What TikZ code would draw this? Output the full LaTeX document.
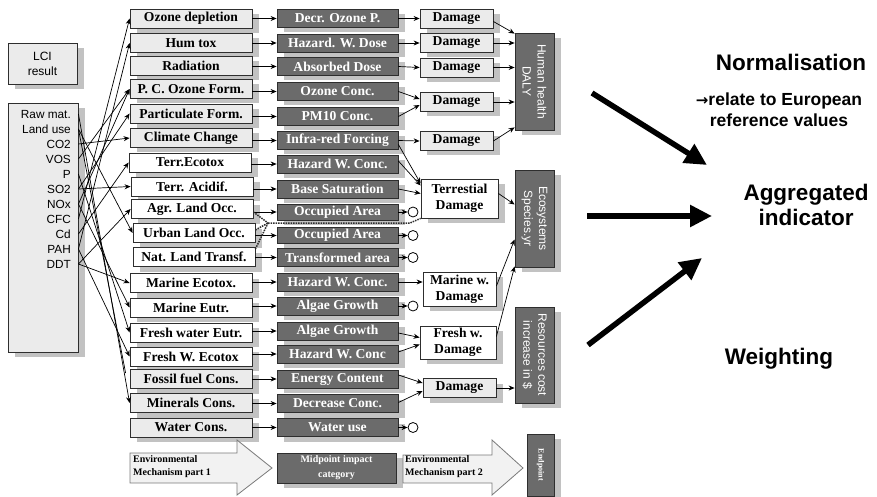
\documentclass[tikz,border=0pt]{standalone}
\usepackage{fontspec}
\setmainfont{Liberation Serif}
\setsansfont{Liberation Sans}
\newfontfamily\symfont{DejaVu Sans}
\usetikzlibrary{arrows.meta,shadows,calc}
\definecolor{lightfill}{HTML}{EBEBEB}
\definecolor{darkfill}{HTML}{6B6B6B}
\definecolor{shadowgray}{HTML}{C2C2C2}
\definecolor{edge}{HTML}{2E2E2E}
\definecolor{bigarrowfill}{HTML}{F2F2F2}
\definecolor{bigarrowedge}{HTML}{7A7A7A}
\begin{document}
\begin{tikzpicture}[x=1pt,y=-1pt,
  boxshadow/.style={general shadow={fill=shadowgray,shadow xshift=7pt,shadow yshift=-5pt}},
  catbox/.style={draw=edge,line width=0.8pt,fill=lightfill,inner sep=0pt,
    minimum width=122pt,minimum height=19pt,
    font=\bfseries\fontsize{13.6}{16}\selectfont,boxshadow},
  catwhite/.style={catbox,fill=white},
  midbox/.style={catbox,fill=darkfill,text=white,minimum width=121pt,minimum height=18pt},
  dmgbox/.style={catbox,minimum width=73pt},
  dmgwhite/.style={catbox,fill=white,align=center},
  endbox/.style={draw=edge,line width=0.8pt,fill=darkfill,inner sep=0pt,boxshadow},
  endtext/.style={rotate=-90,text=white,align=center,inner sep=0pt,
    font=\sffamily\fontsize{12}{15}\selectfont},
  srcbox/.style={draw=edge,line width=0.9pt,fill=lightfill,inner sep=0pt,boxshadow},
  invtext/.style={anchor=east,inner sep=0pt,font=\sffamily\fontsize{11.8}{13}\selectfont},
  arr/.style={-{Stealth[length=6pt,width=5pt]},line width=0.7pt},
  dotline/.style={densely dotted,line width=1.5pt,edge},
  endcirc/.style={circle,draw=black,line width=0.8pt,fill=white,minimum size=10pt,inner sep=0pt},
  bigarrow/.style={draw=bigarrowedge,line width=0.8pt,fill=bigarrowfill},
  arrowtext/.style={anchor=west,align=left,inner sep=0pt,font=\bfseries\fontsize{10}{13}\selectfont},
  thickarr/.style={line width=5.5pt,-{Triangle[length=22pt,width=21pt]}},
  bigtext/.style={font=\sffamily\bfseries\fontsize{22.5}{25}\selectfont,align=center,inner sep=0pt},
  smalltext/.style={font=\sffamily\bfseries\fontsize{17.5}{21}\selectfont,align=center,inner sep=0pt}
]
\useasboundingbox (0,0) rectangle (877,497);

% ---- inventory ----
\node[srcbox,minimum width=69pt,minimum height=41pt,align=center,
      font=\sffamily\fontsize{12}{15}\selectfont] (lci) at (42.5,63.5) {LCI\\result};
\node[srcbox,minimum width=70pt,minimum height=249pt] (inv) at (43,227.5) {};
\node[invtext] (iRaw)  at (71,114) {Raw mat.};
\node[invtext] (iLand) at (71,129) {Land use};
\node[invtext] (iCO)   at (71,144) {CO2};
\node[invtext] (iVOS)  at (71,159) {VOS};
\node[invtext] (iP)    at (71,174) {P};
\node[invtext] (iSO)   at (71,189) {SO2};
\node[invtext] (iNOx)  at (71,204) {NOx};
\node[invtext] (iCFC)  at (71,219) {CFC};
\node[invtext] (iCd)   at (71,234) {Cd};
\node[invtext] (iPAH)  at (71,249) {PAH};
\node[invtext] (iDDT)  at (71,264) {DDT};

% ---- midpoint categories ----
\node[catbox]   (m1)  at (191,18.5)  {Ozone depletion};
\node[catbox]   (m2)  at (191,43)    {Hum tox};
\node[catbox]   (m3)  at (191,66)    {Radiation};
\node[catbox]   (m4)  at (191,89)    {P. C. Ozone Form.};
\node[catbox]   (m5)  at (191,113.5) {Particulate Form.};
\node[catbox]   (m6)  at (191,138)   {Climate Change};
\node[catwhite] (m7)  at (190,162.5) {Terr.Ecotox};
\node[catwhite] (m8)  at (192,186.5) {Terr. Acidif.};
\node[catwhite] (m9)  at (192,209)   {Agr. Land Occ.};
\node[catwhite] (m10) at (194,233)   {Urban Land Occ.};
\node[catwhite] (m11) at (194,257)   {Nat. Land Transf.};
\node[catwhite] (m12) at (191,283)   {Marine Ecotox.};
\node[catwhite] (m13) at (191,307.5) {Marine Eutr.};
\node[catwhite] (m14) at (191,332.5) {Fresh water Eutr.};
\node[catwhite] (m15) at (191,356.5) {Fresh W. Ecotox};
\node[catbox]   (m16) at (191,379)   {Fossil fuel Cons.};
\node[catbox]   (m17) at (191,403)   {Minerals Cons.};
\node[catbox]   (m18) at (191,427.5) {Water Cons.};

% ---- midpoint indicators ----
\node[midbox] (d1)  at (337.5,18.5)  {Decr. Ozone P.};
\node[midbox] (d2)  at (337.5,43)    {Hazard. W. Dose};
\node[midbox] (d3)  at (337.5,66.5)  {Absorbed Dose};
\node[midbox] (d4)  at (337.5,91.5)  {Ozone Conc.};
\node[midbox] (d5)  at (337.5,116.5) {PM10 Conc.};
\node[midbox] (d6)  at (337.5,140.5) {Infra-red Forcing};
\node[midbox] (d7)  at (337.5,164)   {Hazard W. Conc.};
\node[midbox] (d8)  at (337.5,189)   {Base Saturation};
\node[midbox,minimum height=16pt] (d9)  at (337.5,212)   {Occupied Area};
\node[midbox,minimum height=16pt] (d10) at (337.5,235.5) {Occupied Area};
\node[midbox] (d11) at (337.5,257.5) {Transformed area};
\node[midbox] (d12) at (337.5,282)   {Hazard W. Conc.};
\node[midbox] (d13) at (337.5,306)   {Algae Growth};
\node[midbox] (d14) at (337.5,331)   {Algae Growth};
\node[midbox] (d15) at (337.5,354)   {Hazard W. Conc};
\node[midbox] (d16) at (337.5,379)   {Energy Content};
\node[midbox] (d17) at (337.5,403.5) {Decrease Conc.};
\node[midbox] (d18) at (337.5,427.5) {Water use};

% ---- damage boxes ----
\node[dmgbox] (h1) at (456.5,18.5) {Damage};
\node[dmgbox] (h2) at (456.5,43)   {Damage};
\node[dmgbox] (h3) at (456.5,67.5) {Damage};
\node[dmgbox] (h4) at (456.5,102)  {Damage};
\node[dmgbox] (h5) at (456.5,141)  {Damage};
\node[dmgwhite,minimum width=77pt,minimum height=39pt] (ter) at (459.5,198.5) {Terrestial\\Damage};
\node[dmgwhite,minimum width=73pt,minimum height=34pt] (mar) at (459.5,289)   {Marine w.\\Damage};
\node[dmgwhite,minimum width=76pt,minimum height=33pt] (fre) at (458,342.5)   {Fresh w.\\Damage};
\node[dmgbox] (rd) at (459.5,388) {Damage};

% ---- end points ----
\node[endbox,minimum width=39pt,minimum height=97pt] (hh)  at (534.5,81.5)  {};
\node[endtext] (hhl) at (hh.center) {Human health\\DALY};
\node[endbox,minimum width=39pt,minimum height=97pt] (eco) at (534.5,218.5) {};
\node[endtext] (ecol) at (eco.center) {Ecosystems\\Species.yr};
\node[endbox,minimum width=39pt,minimum height=96pt] (res) at (534.5,355) {};
\node[endtext] (resl) at (res.center) {Resources cost\\increase in \$};

% ---- loose ends (circles) ----
\node[endcirc] (c9)  at (413,212)   {};
\node[endcirc] (c10) at (413,235.5) {};
\node[endcirc] (c11) at (413,257.5) {};
\node[endcirc] (c13) at (413,306)   {};
\node[endcirc] (c18) at (413,427.5) {};

% ---- inventory to midpoint categories ----
\draw[arr] (inv.east |- iCFC) -- (m1.west);
\draw[arr] (inv.east |- iPAH) -- (m2.west);
\draw[arr] (inv.east |- iVOS) -- (m4.west);
\draw[arr] (inv.east |- iNOx) -- (m4.west);
\draw[arr] (inv.east |- iSO)  -- (m5.west);
\draw[arr] (inv.east |- iCO)  -- (m6.west);
\draw[arr] (inv.east |- iCd)  -- (m7.west);
\draw[arr] (inv.east |- iSO)  -- (m8.west);
\draw[arr] (inv.east |- iDDT) -- (m9.west);
\draw[arr] (inv.east |- iLand) -- (m10.west);
\draw[arr] (inv.east |- iDDT) -- (m12.west);
\draw[arr] (inv.east |- iNOx) -- (m13.west);
\draw[arr] (inv.east |- iP)   -- (m14.west);
\draw[arr] (inv.east |- iPAH) -- (m15.west);
\draw[arr] (inv.east |- iRaw) -- (m17.west);
\draw[line width=0.7pt] (inv.east |- iLand) -- ($(m16.west)+(-4,-6)$);

% ---- categories to indicators ----
\foreach \i in {1,...,18}
  \draw[arr] (m\i.east |- d\i.west) -- (d\i.west);

% land use paths (dotted)
\coordinate (dotjoin) at (268,223);
\coordinate (dotend)  at (410,223);
\draw[dotline] ($(m9.east)+(0,3)$)   -- (dotjoin);
\draw[dotline] ($(m10.east)+(0,-3)$) -- (dotjoin);
\draw[dotline] ($(m11.east)+(0,-8)$) -- (dotjoin);
\draw[dotline] (dotjoin) -- (dotend) -- (ter.south west);

% ---- indicators to damage ----
\draw[arr] (d1.east) -- (h1.west);
\draw[arr] (d2.east) -- (h2.west);
\draw[arr] (d3.east) -- (h3.west);
\draw[arr] (d4.east) -- ($(h4.west)+(0,-3)$);
\draw[arr] (d5.east) -- ($(h4.west)+(0,3)$);
\draw[arr] (d6.east) -- (h5.west);
\draw[arr] ($(d6.east)+(0,4)$) -- ($(ter.west)+(0,-15)$);
\draw[arr] ($(d7.east)+(0,-3)$) -- ($(ter.west)+(0,-13)$);
\draw[arr] (d8.east) -- ($(ter.west)+(0,-5)$);
\draw[arr] (d9.east)  -- (c9.west);
\draw[arr] (d10.east) -- (c10.west);
\draw[arr] (d11.east) -- (c11.west);
\draw[arr] (d12.east) -- (mar.west |- d12.east);
\draw[arr] (d13.east) -- (c13.west);
\draw[arr] ($(d14.east)+(0,2)$) -- ($(fre.west)+(0,-5)$);
\draw[arr] ($(d15.east)+(0,-2)$) -- ($(fre.west)+(0,2)$);
\draw[arr] ($(d16.east)+(0,-4)$) -- ($(rd.west)+(0,-5)$);
\draw[arr] ($(d17.east)+(0,-1)$) -- ($(rd.west)+(0,3)$);
\draw[arr] (d18.east) -- (c18.west);

% ---- damage to end points ----
\draw[arr] ($(h1.east)+(0,3)$) -- ($(hh.north west)+(0,1)$);
\draw[arr] (h2.east) -- (hh.west |- h2.east);
\draw[arr] (h3.east) -- (hh.west |- h3.east);
\draw[arr] (h4.east) -- (hh.west |- h4.east);
\draw[arr] (h5.east) -- ($(hh.south west)+(0,-3)$);
\draw[arr] ($(ter.east)+(0,-5)$) -- ($(eco.west)+(0,-14)$);
\draw[arr] ($(mar.east)+(0,-3)$) -- ($(eco.west)+(0,21)$);
\draw[arr] ($(fre.east)+(0,-6)$) -- ($(eco.south west)+(0,-1)$);
\draw[arr] (rd.east) -- (res.west |- rd.east);

% ---- legend row ----
\draw[bigarrow] (130,453) -- (237,453) -- (237,440) -- (272,468)
  -- (237,495) -- (237,483) -- (130,483) -- cycle;
\node[arrowtext] (env1) at (133,467) {Environmental\\Mechanism part 1};
\node[midbox,minimum width=119pt,minimum height=30pt,align=center,
      font=\bfseries\fontsize{10}{15}\selectfont] (midleg) at (336.5,468)
      {Midpoint impact\\category};
\draw[bigarrow] (403,455) -- (492,455) -- (492,440) -- (523,468)
  -- (492,495) -- (492,483) -- (403,483) -- cycle;
\node[arrowtext] (env2) at (405,467) {Environmental\\Mechanism part 2};
\node[endbox,minimum width=27pt,minimum height=62pt] (ep) at (540.5,465) {};
\node[endtext,font=\bfseries\fontsize{8}{10}\selectfont] (epl) at (ep.center) {Endpoint};

% ---- aggregation ----
\node[bigtext] (norm) at (791,62) {Normalisation};
\node[smalltext] (rel) at (779,110) {{\symfont\fontsize{15}{15}\selectfont →}relate to European\\reference values};
\node[bigtext] (agg) at (806,205) {Aggregated\\indicator};
\node[bigtext] (wgt) at (779,359) {Weighting};
\coordinate (nstart) at (592,93);
\coordinate (ntip)   at (707,165);
\coordinate (mstart) at (587,216);
\coordinate (mtip)   at (712,216);
\coordinate (wstart) at (588,345);
\coordinate (wtip)   at (702,258);
\draw[thickarr] (nstart) -- (ntip);
\draw[thickarr] (mstart) -- (mtip);
\draw[thickarr] (wstart) -- (wtip);
\end{tikzpicture}
\end{document}
